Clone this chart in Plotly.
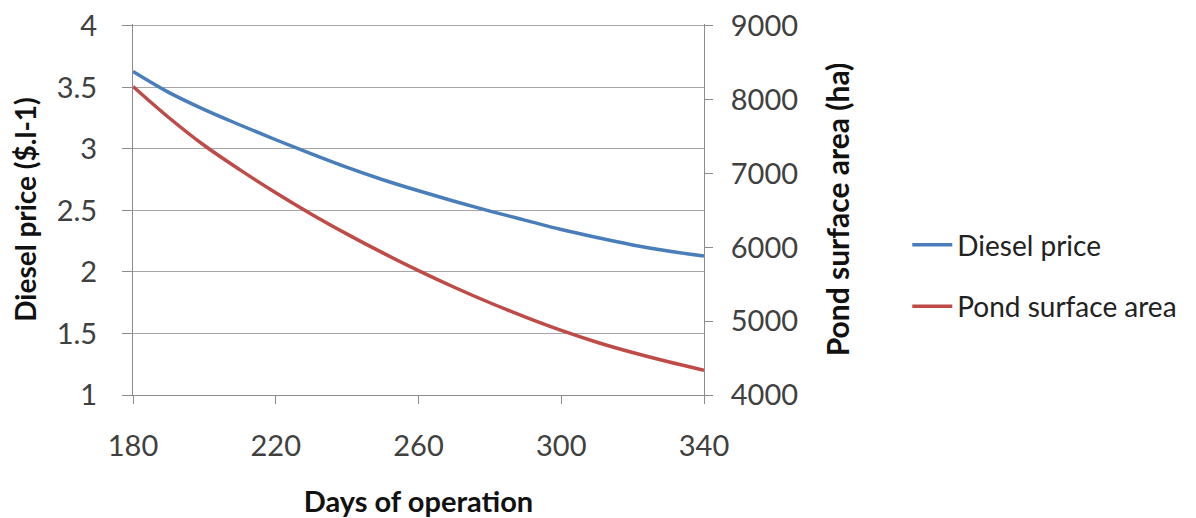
import plotly.graph_objects as go

days = [180, 190, 200, 210, 220, 230, 240, 250, 260, 270, 280, 290, 300, 310, 320, 330, 340]
diesel_price = [3.63, 3.46, 3.32, 3.195, 3.075, 2.96, 2.85, 2.75, 2.66, 2.575, 2.495, 2.42, 2.345, 2.28, 2.22, 2.17, 2.13]
pond_area = [8180, 7760, 7380, 7050, 6740, 6450, 6180, 5925, 5685, 5460, 5250, 5055, 4875, 4715, 4575, 4450, 4335]

FONT = "Lato"
AXIS_GRAY = "#8c8c8c"
GRID_GRAY = "#a6a6a6"
TXT = "#404040"
TICK_SIZE = 29

fig = go.Figure()
fig.add_trace(go.Scatter(x=days, y=diesel_price, mode="lines", name="Diesel price",
                         line=dict(color="#4a7ebb", width=3.5, shape="spline", smoothing=1.0),
                         legendgroup="a"))
fig.add_trace(go.Scatter(x=days, y=pond_area, mode="lines", name="Pond surface area",
                         line=dict(color="#be4b48", width=3.5, shape="spline", smoothing=1.0),
                         yaxis="y2", legendgroup="b"))

fig.update_layout(
    width=1188, height=510,
    margin=dict(l=125, r=492, t=16, b=123),
    paper_bgcolor="white", plot_bgcolor="white",
    font=dict(family=FONT, size=TICK_SIZE, color=TXT),
    showlegend=True,
    legend=dict(x=1.356, y=0.322, xanchor="left", yanchor="middle",
                font=dict(family=FONT, size=28, color="#222"),
                tracegroupgap=22, itemwidth=40, bgcolor="rgba(0,0,0,0)"),
    xaxis=dict(range=[180, 340], tickvals=[180, 220, 260, 300, 340],
               showline=True, linecolor=AXIS_GRAY, linewidth=1,
               ticks="outside", ticklen=8, tickcolor=AXIS_GRAY,
               ticklabelstandoff=17,
               showgrid=False, zeroline=False, automargin=False,
               title=dict(text="<b>Days of operation</b>", standoff=30,
                          font=dict(family=FONT, size=29, color="#111")),
               tickfont=dict(family=FONT, size=TICK_SIZE, color=TXT)),
    yaxis=dict(range=[1, 4.016], tickvals=[1, 1.5, 2, 2.5, 3, 3.5, 4],
               ticktext=["1", "1.5", "2", "2.5", "3", "3.5", "4"],
               showline=True, linecolor=AXIS_GRAY, linewidth=1,
               ticks="outside", ticklen=10, tickcolor=AXIS_GRAY,
               ticklabelstandoff=19, ticklabeloverflow="allow",
               showgrid=True, gridcolor=GRID_GRAY, gridwidth=1, zeroline=False,
               automargin=False,
               title=dict(text="<b>Diesel price ($.l-1)</b>", standoff=12,
                          font=dict(family=FONT, size=28, color="#111")),
               tickfont=dict(family=FONT, size=TICK_SIZE, color=TXT)),
    yaxis2=dict(range=[4000, 9000 + 0.016 * 5000 / 3], tickvals=[4000, 5000, 6000, 7000, 8000, 9000],
                overlaying="y", side="right",
                showline=True, linecolor=AXIS_GRAY, linewidth=1,
                ticks="outside", ticklen=8, tickcolor=AXIS_GRAY,
                ticklabelstandoff=12, ticklabeloverflow="allow",
                showgrid=False, zeroline=False, automargin=False,
                title=dict(text="<b>Pond surface area (ha)</b>", standoff=30,
                           font=dict(family=FONT, size=30, color="#111")),
                tickfont=dict(family=FONT, size=TICK_SIZE, color=TXT)),
)

fig.write_html("out.html")
